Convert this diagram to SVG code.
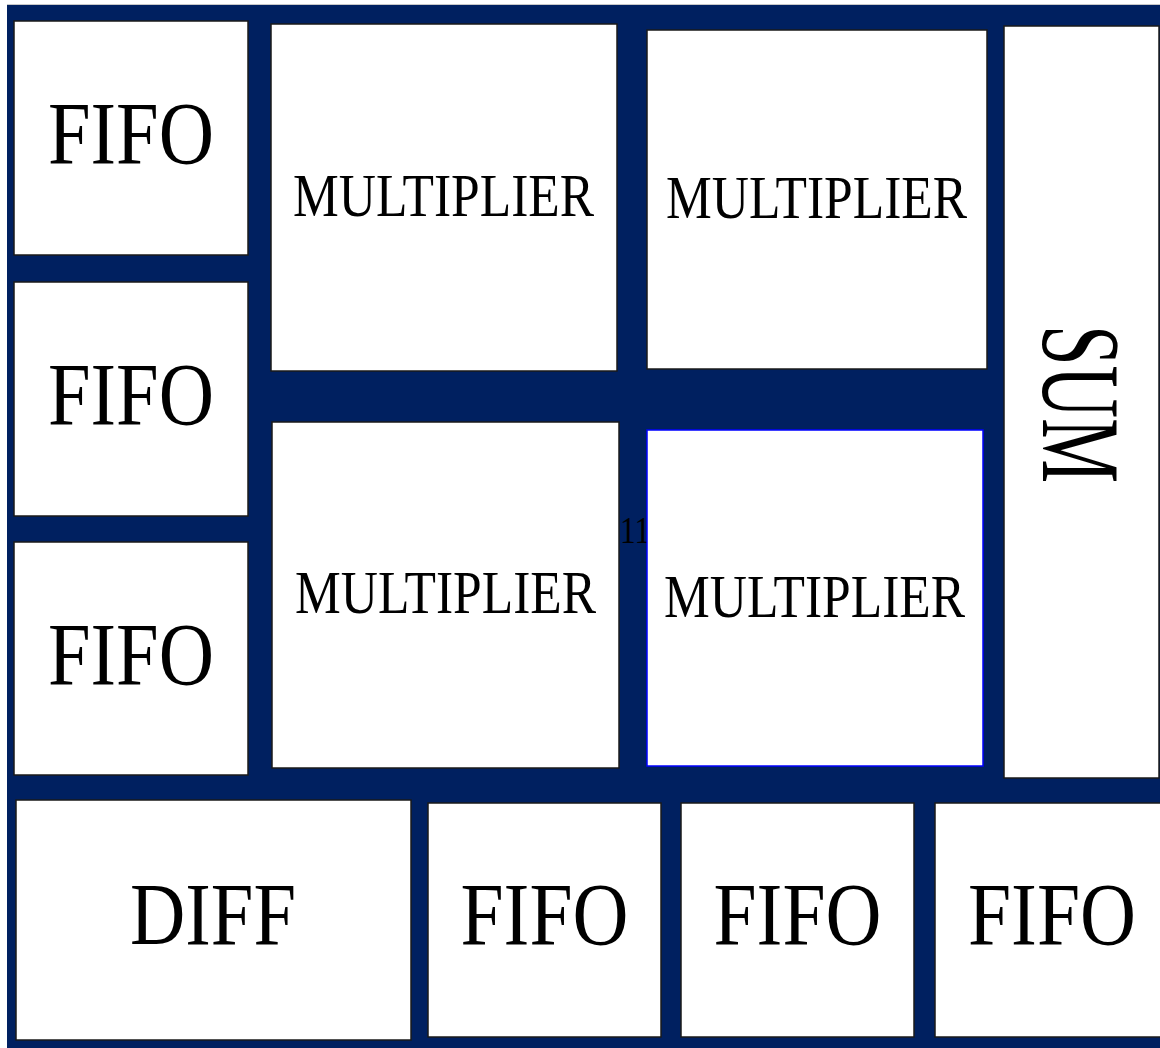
<svg xmlns="http://www.w3.org/2000/svg" width="1160" height="1048" viewBox="0 0 1160 1048">
<style>
.box{fill:#ffffff;stroke:#1a1a1a;stroke-width:1.5}
.blue{fill:#ffffff;stroke:#0000ff;stroke-width:1.5}
.t{font-family:"Liberation Serif","DejaVu Serif",serif;fill:#000000;text-anchor:middle}
.fifo{font-size:88px}
.mul{font-size:62px}
</style>
<rect x="0" y="0" width="1160" height="1048" fill="#ffffff"/>
<rect x="7" y="4" width="1153" height="1" fill="#c8c8c8"/>
<rect id="background" x="7" y="5" width="1153" height="1043" fill="#002060"/>
<g id="connectors"></g>
<g id="fifo1"><rect class="box" x="14" y="21" width="234" height="234"/><text class="t fifo" x="131" y="163" textLength="166" lengthAdjust="spacingAndGlyphs">FIFO</text></g>
<g id="fifo2"><rect class="box" x="14" y="282" width="234" height="234"/><text class="t fifo" x="131" y="424" textLength="166" lengthAdjust="spacingAndGlyphs">FIFO</text></g>
<g id="fifo3"><rect class="box" x="14" y="542" width="234" height="233"/><text class="t fifo" x="131" y="684" textLength="166" lengthAdjust="spacingAndGlyphs">FIFO</text></g>
<g id="mult1"><rect class="box" x="271" y="24" width="346" height="347"/><text class="t mul" x="443.5" y="216" textLength="301" lengthAdjust="spacingAndGlyphs">MULTIPLIER</text></g>
<g id="mult2"><rect class="box" x="647" y="30" width="340" height="339"/><text class="t mul" x="816.5" y="218" textLength="301" lengthAdjust="spacingAndGlyphs">MULTIPLIER</text></g>
<g id="mult3"><rect class="box" x="272" y="422" width="347" height="346"/><text class="t mul" x="445.5" y="613" textLength="301" lengthAdjust="spacingAndGlyphs">MULTIPLIER</text></g>
<g id="label11"><text class="t" x="620" y="543" font-size="38" text-anchor="start" style="text-anchor:start" textLength="30" lengthAdjust="spacingAndGlyphs">11</text></g>
<g id="mult4"><rect class="blue" x="647" y="430" width="336" height="336"/><text class="t mul" x="814.5" y="617" textLength="301" lengthAdjust="spacingAndGlyphs">MULTIPLIER</text></g>
<g id="sum"><rect class="box" x="1004" y="26" width="155" height="752"/><text class="t" font-size="112" transform="translate(1043,404) rotate(90)" x="0" y="0" textLength="158" lengthAdjust="spacingAndGlyphs">SUM</text></g>
<g id="diff"><rect class="box" x="16" y="800" width="395" height="240"/><text class="t fifo" x="213" y="944" font-size="85" textLength="166" lengthAdjust="spacingAndGlyphs">DIFF</text></g>
<g id="fifo4"><rect class="box" x="428" y="803" width="233" height="234"/><text class="t fifo" x="544.5" y="944" textLength="168" lengthAdjust="spacingAndGlyphs">FIFO</text></g>
<g id="fifo5"><rect class="box" x="681" y="803" width="233" height="234"/><text class="t fifo" x="797.5" y="944" textLength="168" lengthAdjust="spacingAndGlyphs">FIFO</text></g>
<g id="fifo6"><rect class="box" x="935" y="803" width="230" height="234"/><text class="t fifo" x="1052" y="944" textLength="168" lengthAdjust="spacingAndGlyphs">FIFO</text></g>
</svg>
